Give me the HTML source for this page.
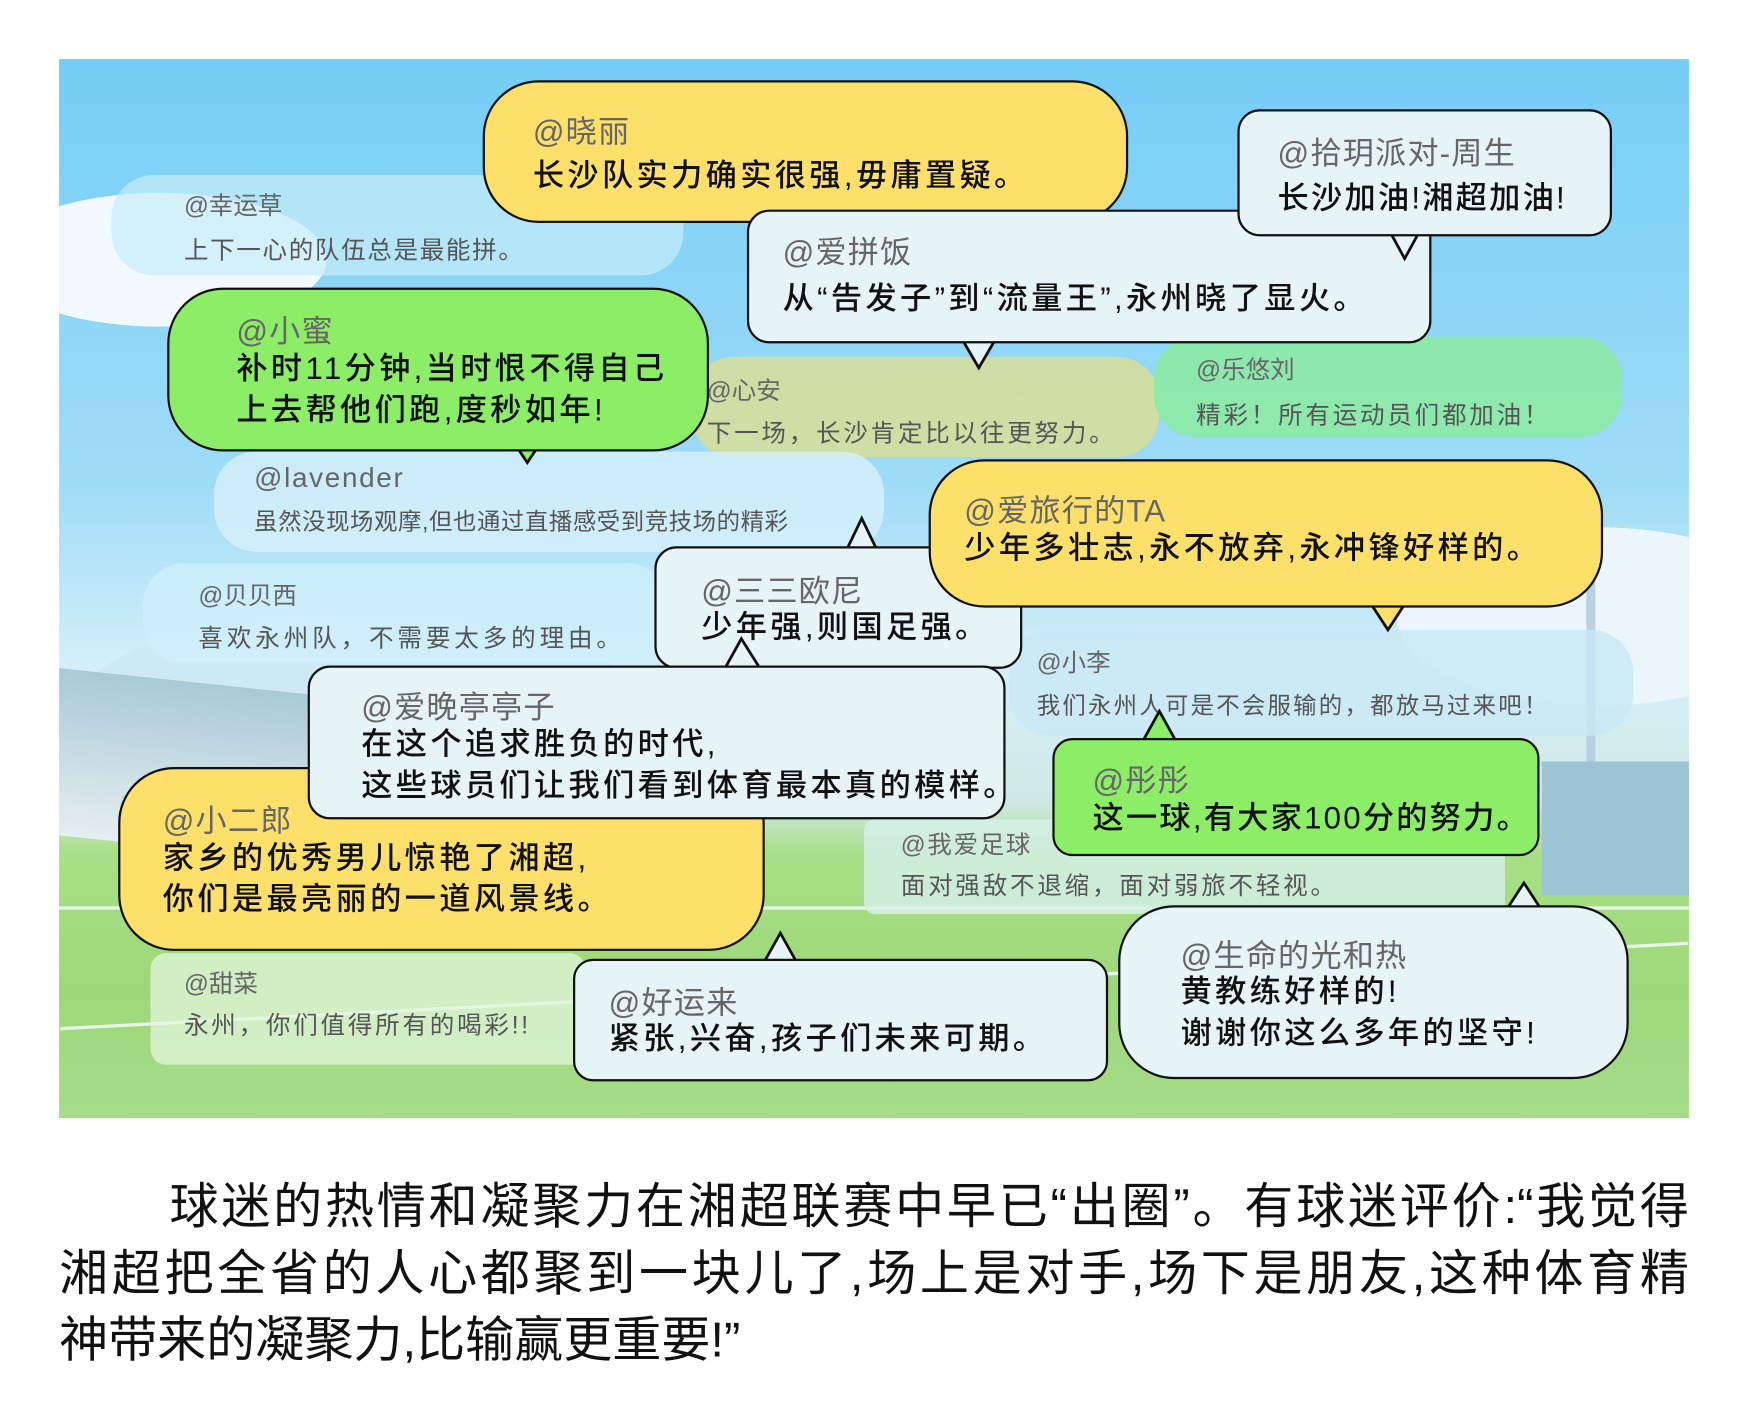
<!DOCTYPE html>
<html><head><meta charset="utf-8"><style>
html,body{margin:0;padding:0;background:#fff;}
body{width:1748px;height:1417px;overflow:hidden;position:relative;font-family:"Liberation Sans","Noto Sans CJK SC",sans-serif;}
#w{position:absolute;left:0;top:0;width:1568px;height:1271px;transform:scale(1.1148);transform-origin:0 0;}
#scene{position:absolute;left:53px;top:53px;width:1462px;height:950px;overflow:hidden;
background:linear-gradient(180deg,#74cdf6 0%,#9fdcf7 40%,#d6eff8 58%,#cfe9e6 70%,#a9df86 75%,#9ed77a 88%,#a6dc88 100%);}
.cl{position:absolute;background:#f2f9fc;border-radius:50%;}
.b{position:absolute;box-sizing:border-box;}
.s{border:2.5px solid #111;}
.y{background:#fde06a;}
.g{background:#8cee66;}
.l{background:#e6f4f7;}
.f{border-radius:38px;}
.n{position:absolute;font-size:28px;color:#666;white-space:nowrap;letter-spacing:1px;}
.t{position:absolute;font-size:28px;color:#111;white-space:nowrap;line-height:37px;font-weight:500;letter-spacing:3px;}
.fn{position:absolute;font-size:22px;color:#666;white-space:nowrap;}
.ft{position:absolute;font-size:22px;color:#555;white-space:nowrap;letter-spacing:1.5px;}
svg.tl{position:absolute;overflow:visible;}
.cap{position:absolute;left:53px;width:1462px;font-size:44px;line-height:61px;color:#111;white-space:nowrap;text-align:justify;text-align-last:justify;}
</style></head><body><div id="w">
<div id="scene">
 <div class="cl" style="left:-60px;top:120px;width:300px;height:120px"></div>
 <div class="cl" style="left:1200px;top:420px;width:360px;height:160px;background:#eaf6fb"></div>
 <div class="cl" style="left:20px;top:500px;width:500px;height:150px;background:#cde9f3"></div>
 <div style="position:absolute;left:0;top:560px;width:260px;height:150px;background:linear-gradient(180deg,#a9c9d6,#e6eef0);transform:skewY(6deg)"></div>
 <div style="position:absolute;left:1370px;top:380px;width:8px;height:300px;background:#b7d1e0"></div>
 <div style="position:absolute;left:0;top:760px;width:1462px;height:3px;background:#e8f6e6"></div>
 <div style="position:absolute;left:0;top:830px;width:1462px;height:3px;background:#e8f6e6;transform:rotate(-3deg)"></div>
 <div style="position:absolute;left:1330px;top:630px;width:140px;height:120px;background:#9cc4d4"></div>
</div>

<!-- faded bubbles -->
<div class="b f" style="left:100px;top:157px;width:513px;height:90px;background:rgba(200,236,250,.7)"></div>
<div class="fn" style="left:165px;top:167px">@幸运草</div><div class="ft" style="left:165px;top:207px">上下一心的队伍总是最能拼。</div>
<div class="b f" style="left:620px;top:320px;width:420px;height:90px;background:rgba(215,222,150,.85)"></div>
<div class="fn" style="left:634px;top:333px">@心安</div><div class="ft" style="left:634px;top:371px;letter-spacing:2.5px">下一场，长沙肯定比以往更努力。</div>
<div class="b f" style="left:1035px;top:302px;width:420px;height:90px;background:rgba(140,235,160,.85)"></div>
<div class="fn" style="left:1073px;top:314px">@乐悠刘</div><div class="ft" style="left:1073px;top:355px;letter-spacing:2.5px">精彩！所有运动员们都加油！</div>
<div class="b f" style="left:192px;top:405px;width:601px;height:90px;background:rgba(215,240,250,.8)"></div>
<div class="fn" style="left:228px;top:415px;font-size:25px;letter-spacing:1.5px">@lavender</div><div class="ft" style="left:228px;top:452px;font-size:21px;letter-spacing:0.5px">虽然没现场观摩,但也通过直播感受到竞技场的精彩</div>
<div class="b f" style="left:128px;top:505px;width:472px;height:90px;background:rgba(205,238,250,.85)"></div>
<div class="fn" style="left:178px;top:517px">@贝贝西</div><div class="ft" style="left:178px;top:555px;letter-spacing:3.5px">喜欢永州队，不需要太多的理由。</div>
<div class="b f" style="left:905px;top:565px;width:560px;height:95px;background:rgba(200,232,245,.8)"></div>
<div class="fn" style="left:930px;top:577px">@小李</div><div class="ft" style="left:930px;top:617px;font-size:21px;letter-spacing:2px">我们永州人可是不会服输的，都放马过来吧！</div>
<div class="b" style="left:775px;top:735px;width:575px;height:85px;border-radius:10px;background:rgba(215,240,235,.8)"></div>
<div class="fn" style="left:808px;top:740px;letter-spacing:1.5px">@我爱足球</div><div class="ft" style="left:808px;top:777px;letter-spacing:2.5px">面对强敌不退缩，面对弱旅不轻视。</div>
<div class="b" style="left:135px;top:855px;width:390px;height:100px;border-radius:14px;background:rgba(225,245,220,.75)"></div>
<div class="fn" style="left:165px;top:865px">@甜菜</div><div class="ft" style="left:165px;top:902px;letter-spacing:2.5px">永州，你们值得所有的喝彩!!</div>

<!-- solid bubbles -->
<div class="b s y" style="left:433px;top:72px;width:579px;height:128px;border-radius:50px"></div>
<div class="n" style="left:478px;top:97px">@晓丽</div><div class="t" style="left:478px;top:139px">长沙队实力确实很强,毋庸置疑。</div>

<svg class="tl" style="left:0;top:0" width="1" height="1"><polygon points="864,306 892,306 878,330" fill="#e6f4f7" stroke="#111" stroke-width="2.5"/></svg>
<div class="b s l" style="left:670px;top:188px;width:614px;height:120px;border-radius:20px"></div>
<div class="n" style="left:702px;top:205px">@爱拼饭</div><div class="t" style="left:702px;top:249px">从“告发子”到“流量王”,永州晓了显火。</div>

<svg class="tl" style="left:0;top:0" width="1" height="1"><polygon points="1248,210 1272,210 1260,232" fill="#e6f4f7" stroke="#111" stroke-width="2.5"/></svg>
<div class="b s l" style="left:1110px;top:98px;width:336px;height:114px;border-radius:20px"></div>
<div class="n" style="left:1146px;top:116px">@拾玥派对-周生</div><div class="t" style="left:1146px;top:159px;letter-spacing:2px">长沙加油!湘超加油!</div>

<svg class="tl" style="left:0;top:0" width="1" height="1"><polygon points="463,400 483,400 473,415" fill="#8cee66" stroke="#111" stroke-width="2.5"/></svg>
<div class="b s g" style="left:150px;top:258px;width:486px;height:147px;border-radius:50px"></div>
<div class="n" style="left:212px;top:276px">@小蜜</div><div class="t" style="left:212px;top:312px">补时11分钟,当时恨不得自己<br>上去帮他们跑,度秒如年!</div>

<svg class="tl" style="left:0;top:0" width="1" height="1"><polygon points="760,492 786,492 773,465" fill="#e6f4f7" stroke="#111" stroke-width="2.5"/></svg>
<div class="b s l" style="left:587px;top:490px;width:330px;height:110px;border-radius:20px"></div>
<div class="n" style="left:629px;top:509px">@三三欧尼</div><div class="t" style="left:629px;top:544px">少年强,则国足强。</div>

<svg class="tl" style="left:0;top:0" width="1" height="1"><polygon points="1230,542 1260,542 1245,565" fill="#fde06a" stroke="#111" stroke-width="2.5"/></svg>
<div class="b s y" style="left:833px;top:412px;width:605px;height:133px;border-radius:50px"></div>
<div class="n" style="left:865px;top:437px">@爱旅行的TA</div><div class="t" style="left:865px;top:473px">少年多壮志,永不放弃,永冲锋好样的。</div>

<div class="b s y" style="left:106px;top:688px;width:580px;height:165px;border-radius:50px"></div>
<div class="n" style="left:146px;top:715px">@小二郎</div><div class="t" style="left:146px;top:751px">家乡的优秀男儿惊艳了湘超,<br>你们是最亮丽的一道风景线。</div>

<svg class="tl" style="left:0;top:0" width="1" height="1"><polygon points="650,600 682,600 665,573" fill="#e6f4f7" stroke="#111" stroke-width="2.5"/></svg>
<div class="b s l" style="left:276px;top:597px;width:626px;height:138px;border-radius:20px"></div>
<div class="n" style="left:324px;top:613px">@爱晚亭亭子</div><div class="t" style="left:324px;top:649px">在这个追求胜负的时代,<br>这些球员们让我们看到体育最本真的模样。</div>

<svg class="tl" style="left:0;top:0" width="1" height="1"><polygon points="1025,665 1055,665 1040,638" fill="#8cee66" stroke="#111" stroke-width="2.5"/></svg>
<div class="b s g" style="left:944px;top:662px;width:437px;height:106px;border-radius:18px"></div>
<div class="n" style="left:980px;top:679px">@彤彤</div><div class="t" style="left:980px;top:715px;letter-spacing:2px">这一球,有大家100分的努力。</div>

<svg class="tl" style="left:0;top:0" width="1" height="1"><polygon points="686,862 714,862 700,837" fill="#e6f4f7" stroke="#111" stroke-width="2.5"/></svg>
<div class="b s l" style="left:514px;top:860px;width:480px;height:110px;border-radius:18px"></div>
<div class="n" style="left:546px;top:878px">@好运来</div><div class="t" style="left:546px;top:913px">紧张,兴奋,孩子们未来可期。</div>

<svg class="tl" style="left:0;top:0" width="1" height="1"><polygon points="1352,815 1382,815 1367,792" fill="#e6f4f7" stroke="#111" stroke-width="2.5"/></svg>
<div class="b s l" style="left:1003px;top:812px;width:458px;height:156px;border-radius:50px"></div>
<div class="n" style="left:1059px;top:836px">@生命的光和热</div><div class="t" style="left:1059px;top:871px">黄教练好样的!<br>谢谢你这么多年的坚守!</div>

<div class="cap" style="top:1052px;left:152px;width:1363px">球迷的热情和凝聚力在湘超联赛中早已“出圈”。有球迷评价:“我觉得</div>
<div class="cap" style="top:1112px">湘超把全省的人心都聚到一块儿了,场上是对手,场下是朋友,这种体育精</div>
<div class="cap" style="top:1172px;text-align-last:left;letter-spacing:0px">神带来的凝聚力,比输赢更重要!”</div>
</div></body></html>
